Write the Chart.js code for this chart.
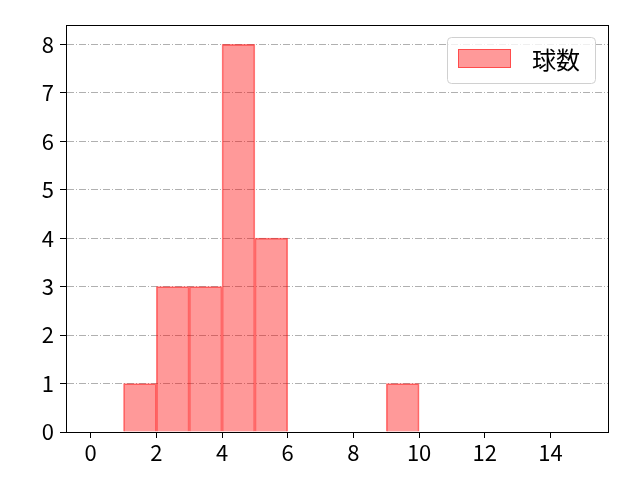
<!DOCTYPE html>
<html>
<head>
<meta charset="utf-8">
<script src="https://cdn.jsdelivr.net/npm/chart.js@4/dist/chart.umd.min.js"></script>
<style>
  html, body { margin: 0; padding: 0; background: #fff; }
  #wrap { width: 640px; height: 480px; }
</style>
</head>
<body>
<div id="wrap"><canvas id="hist" width="640" height="480"></canvas></div>
<script>
// histogram bins (left edge), width 1
const binStarts = [0, 1, 2, 3, 4, 5, 6, 7, 8, 9, 10, 11, 12, 13, 14];
const counts    = [0, 1, 3, 3, 8, 4, 0, 0, 0, 1, 0, 0, 0, 0, 0];
const seriesLabel = '球数';
const xTicks = [0, 2, 4, 6, 8, 10, 12, 14];
const yTicks = [0, 1, 2, 3, 4, 5, 6, 7, 8];

const FONT = "'Noto Sans CJK JP', 'Noto Sans', sans-serif";
const fillCol = 'rgba(255,0,0,0.4)';
const edgeCol = 'rgba(255,0,0,0.5)';

const points = [];
binStarts.forEach((b, i) => {
    if (counts[i] > 0) points.push({ x: b + 0.5, y: counts[i] });
});

// frame round the plot area + legend box inside it
const framePlugin = {
    id: 'frame',
    afterDraw(chart) {
        const { ctx, chartArea: a } = chart;
        ctx.save();
        ctx.strokeStyle = '#000';
        ctx.lineWidth = 1;
        ctx.strokeRect(Math.round(a.left) + 0.5, Math.round(a.top) + 0.5,
            Math.round(a.right - a.left), Math.round(a.bottom - a.top));

        // legend
        const w = 148, h = 46;
        const x0 = a.right - 13 - w, y0 = a.top + 12;
        ctx.beginPath();
        ctx.roundRect(x0 + 0.5, y0 + 0.5, w, h, 4);
        ctx.fillStyle = 'rgba(255,255,255,0.8)';
        ctx.fill();
        ctx.strokeStyle = '#d0d0d0';
        ctx.stroke();
        ctx.fillStyle = fillCol;
        ctx.fillRect(x0 + 11, y0 + 12, 53, 19);
        ctx.strokeStyle = edgeCol;
        ctx.strokeRect(x0 + 11.5, y0 + 12.5, 52, 18);
        ctx.fillStyle = '#000';
        ctx.font = '24px ' + FONT;
        ctx.textBaseline = 'middle';
        ctx.fillText(chart.data.datasets[0].label, x0 + 85, y0 + 23);
        ctx.restore();
    }
};

new Chart(document.getElementById('hist'), {
    type: 'bar',
    data: {
        datasets: [{
            label: seriesLabel,
            data: points,
            backgroundColor: fillCol,
            borderColor: edgeCol,
            borderWidth: 1,
            borderSkipped: 'bottom',
            barPercentage: 1,
            categoryPercentage: 1,
        }]
    },
    options: {
        responsive: false,
        animation: false,
        layout: { padding: { top: 25, right: 32, left: 0, bottom: 0 } },
        plugins: { legend: { display: false }, tooltip: { enabled: false } },
        scales: {
            x: {
                type: 'linear',
                min: -0.75,
                max: 15.75,
                offset: false,
                afterBuildTicks: s => { s.ticks = xTicks.map(v => ({ value: v })); },
                afterFit: s => { s.height = 48; },
                grid: { offset: false, drawOnChartArea: false, tickLength: 6, tickColor: '#000', tickWidth: 1 },
                border: { color: '#000', width: 1 },
                ticks: { color: '#000', font: { family: FONT, size: 22 }, padding: 1, maxRotation: 0 }
            },
            y: {
                min: 0,
                max: 8.4,
                afterBuildTicks: s => { s.ticks = yTicks.map(v => ({ value: v })); },
                afterFit: s => { s.width = 66; },
                grid: { color: '#b0b0b0', lineWidth: 1, tickLength: 6, tickColor: '#000', tickWidth: 1,
                        tickBorderDash: [] },
                border: { color: '#000', width: 1, dash: [7, 2, 1, 2] },
                ticks: { color: '#000', font: { family: FONT, size: 22 }, padding: 6 }
            }
        }
    },
    plugins: [framePlugin]
});
</script>
</body>
</html>
